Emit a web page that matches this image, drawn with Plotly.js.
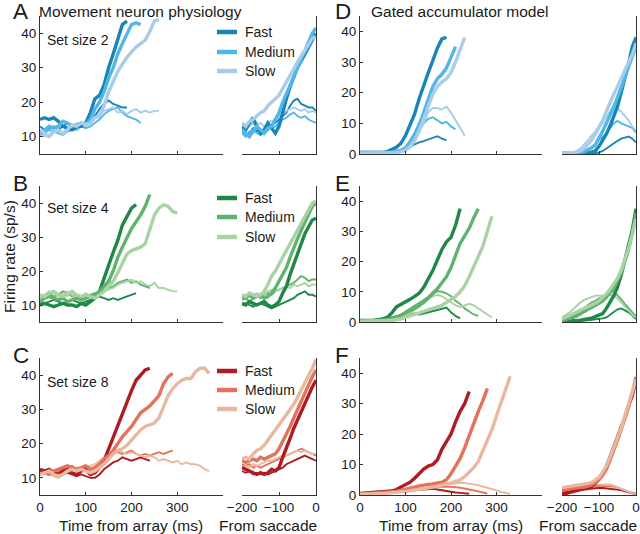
<!DOCTYPE html>
<html>
<head>
<meta charset="utf-8">
<script src="https://cdn.plot.ly/plotly-3.0.1.min.js"></script>
<style>html,body{margin:0;padding:0;background:#fff;}#chart{width:640px;height:534px;}</style>
</head>
<body>
<div id="chart"></div>
<script>
// ---------- time bases ----------
const T_ARRAY = [0,10,20,30,40,50,60,70,80,90,100,110,120,130,140,150,160,170,180,190,200,210,220,230,240,250,260,270,280,290,300,310,320,330,340,350,360,370];
const T_SACC = [-200,-190,-180,-170,-160,-150,-140,-130,-120,-110,-100,-90,-80,-70,-60,-50,-40,-30,-20,-10,0];
const ARRAY_TICKS = [0,100,200,300,400];
const ARRAY_TICK_TEXT = ['0','100','200','300',''];
const SACC_TICKS = [-200,-100,0];
const SACC_TICK_TEXT = ['\u2212200','\u2212100','0'];
const PHYS_YTICKS = [10,20,30,40];
const MODEL_YTICKS = [0,10,20,30,40];
const SPEED_LABELS = ['Fast','Medium','Slow'];
const SET_SIZE_LABELS = ['Set size 2','Set size 4','Set size 8'];

// ---------- A: physiology, set size 2 ----------
const A_arr_fast_in  = [15,15.5,15,15.5,14.5,13,12.5,12,13,13,14,17,21,22,25,30,34,38.5,42.5,43.5];
const A_arr_fast_out = [13,12,12.5,13,12,13,14,13.5,12.5,13,13.5,14,16,18,19.5,20.5,19.5,19,18.5,18.5];
const A_arr_med_in   = [11,12,13,12.5,13,14.5,14,13,13.5,14,13.5,15,18,20,23,27,30,34,37,40,42.5,43,42.5];
const A_arr_med_out  = [10.5,11,12,11.5,11,10.5,11.5,12,12,13,12.5,13,14,15,16.5,17.5,18,18.5,17,16,15.5,15,14];
const A_arr_slow_in  = [12,11,10,11.5,12,11,12,13.5,13,14,13.5,14,15.5,16,19,23,26,29,31,33,34.5,36,37,38,40.5,43.5,44];
const A_arr_slow_out = [11,10,10.5,12,11.5,11,12.5,12,13.5,13,14,14.5,15.5,16.5,17.5,18,18.5,17,17.5,16.5,17.5,18,17,17.5,17,17.5,17.5];
const A_sac_fast_in  = [13,12,14,15.5,13,11,12,14,12.5,11,13,17.5,21,24.5,27.5,30,32,34,36.5,38.5,40];
const A_sac_fast_out = [12,10.5,11,12.5,11.5,12,11,12,13.5,14,15,16,17,19,20.5,21,19.5,19,18.5,18.5,17.5];
const A_sac_med_in   = [12,11,10,11.5,13,12,11,12.5,13,15,17,20,22.5,25,28,30.5,33,35.5,38,40,41.5];
const A_sac_med_out  = [11,10,11.5,12,11,10.5,11,12,12.5,13,14,15,15.5,16.5,17,16,15.5,16,15,14.5,14];
const A_sac_slow_in  = [14,13,14.5,15,16,17,17.5,19,20,21,22,24,26,28,30,32,33.5,35,37,38.5,39];
const A_sac_slow_out = [13,12,13,14,13.5,14,13,14,14.5,15,16,16.5,17.5,18,18.5,18,17.5,18,17,17.5,17];

// ---------- B: physiology, set size 4 ----------
const B_arr_fast_in  = [10,10.5,10,9.5,10,10.5,10,10,9.5,10.5,10,11,12,14,18,21.5,25.5,29,33.5,36,38.5,39.5];
const B_arr_fast_out = [11,10.5,11,11.5,11,10.5,11,11.5,11,10.5,11,11.5,12,12.5,12,11.5,12,11.5,12,12.5,13,13.5];
const B_arr_med_in   = [11,12,12.5,12,11.5,12,11,11.5,12,11.5,12,12.5,13,14,15.5,17,20,24,27,30,32.5,34.5,36.5,39,42.5];
const B_arr_med_out  = [12,13,13.5,12.5,13,14,13.5,12.5,13,12,12.5,13,13.5,14,14.5,15,15.5,16.5,17,17.5,16.5,17,16,15.5,15];
const B_arr_slow_in  = [13,12.5,13.5,14,13,12.5,13,14,13,12.5,13,12.5,12,13,14,15.5,17,19.5,22.5,25,26,26.5,27,28,32,36.5,38.5,39.5,39,37.5,37];
const B_arr_slow_out = [12,13,14,13.5,12.5,13,14,13,12,12.5,13.5,12.5,12,13,14,14.5,15,16,16.5,17,17.5,16.5,17,16,15.5,16.5,15,15,14.5,14,14];
const B_sac_fast_in  = [10.5,10,11,10.5,10,10.5,11,10,9.5,10,11,13.5,15.5,19,22,24.5,28,31,33,35,35.5];
const B_sac_fast_out = [10,10.5,10,9.5,10,10.5,10,9.5,9,9.5,10,10.5,11,11.5,12,13,13.5,14,13,13,12.5];
const B_sac_med_in   = [12.5,12,13,12,12.5,13,12,12.5,13.5,15,17,19,21,24,27,29.5,32,34.5,37,39,40];
const B_sac_med_out  = [11.5,12,11,12,12.5,12,13,13.5,13,14,14.5,15,15.5,16,16.5,17.5,18.5,18,17,17.5,17.5];
const B_sac_slow_in  = [13,12.5,13.5,13,12.5,13,14,16,18.5,20,22,24,26,28,30,32,34,36,38,40,40.5];
const B_sac_slow_out = [12,13,12.5,13,13.5,12.5,13,14,14.5,14,14.5,15,15.5,15,16,15.5,16,16.5,15.5,16,16];

// ---------- C: physiology, set size 8 ----------
const C_arr_fast_in  = [12.5,12,12.5,11.5,11,12,12.5,11.5,11,12,12.5,11,11.5,13,15,18.5,22,25.5,29,32,35.5,38.5,40,41.5,42];
const C_arr_fast_out = [12,11.5,12,11,10.5,11,11.5,11,10.5,11,10.5,10,10,11,12.5,13.5,14.5,15,16,15.5,15,15.5,16,15.5,15];
const C_arr_med_in   = [11,11.5,11,12,12.5,13,13.5,13,12.5,13,13.5,12.5,13,14,15.5,16.5,18,20,22,23.5,25,27,29,30,31,32.5,34,37.5,39.5,40.5];
const C_arr_med_out  = [11.5,12,11,11.5,12,12.5,13,13.5,12.5,13,12,12.5,13,14,15,16.5,17,17.5,17,17.5,18,17,16.5,17,16.5,17,17.5,17,17.5,18];
const C_arr_slow_in  = [11,11.5,12,11,10.5,11,12,12.5,12,12.5,12,11.5,12,13,14,15.5,17,18,18.5,19.5,21,22.5,24,25,25.5,26,27.5,31,34,36,37.5,38.5,39,39,41,42,42,40.5];
const C_arr_slow_out = [11,11.5,11,10.5,10,11,12,12.5,13,12.5,13,13.5,14,15,16,16.5,17.5,18,17.5,17,17.5,17,16.5,16,16.5,16,15,15.5,15,14.5,15,14,14.5,14,14,13.5,12.5,12];
const C_sac_fast_in  = [13,12.5,12,11.5,11,11.5,11,11.5,12.5,12,13,16,18.5,21.5,24.5,27,29.5,32,34.5,36.5,38.5];
const C_sac_fast_out = [12,11.5,12,11,11.5,11,11.5,11,11.5,12,12.5,13,14,14.5,15,15.5,16,16.5,16,15.5,15];
const C_sac_med_in   = [15,14.5,15,15.5,15,16,15.5,16,16.5,17,18.5,20.5,22.5,25,27.5,30,32.5,35,37,39.5,41.5];
const C_sac_med_out  = [14,13.5,14,13,13.5,13,13.5,14,14.5,15,15.5,16,16.5,17,17.5,18,18.5,18,17.5,17,16.5];
const C_sac_slow_in  = [15.5,16,15.5,17,18,18.5,19.5,21,22.5,24,25.5,27,28.5,30,31.5,33.5,35.5,37.5,39.5,42,44.5];
const C_sac_slow_out = [13,13.5,13,14,13.5,14,14.5,15,15,15.5,16,16.5,16.5,17,17.5,18,17.5,18,17.5,17,17];

// ---------- D: model, set size 2 ----------
const D_arr_fast_in  = [0.5,0.5,0.5,0.5,0.5,0.5,0.8,1.5,2.2,3.5,6,9.5,13,18,22.5,26.5,30.5,34.5,37.5,38];
const D_arr_fast_out = [0.5,0.5,0.5,0.5,0.5,0.5,0.5,0.8,1,1.2,1.5,2.5,3.2,3.8,4.2,4.8,5.3,5.8,5,4.5];
const D_arr_med_in   = [0.5,0.5,0.5,0.5,0.5,0.5,0.5,0.6,0.8,1.2,2,4,6.5,9.5,13.5,18,22,24.5,26,28,31.5,35];
const D_arr_med_out  = [0.5,0.5,0.5,0.5,0.5,0.5,0.5,0.5,0.7,1,1.5,3,5,7.5,10,11.5,12,11,10,10.5,9,8];
const D_arr_slow_in  = [0.3,0.3,0.3,0.3,0.3,0.3,0.3,0.3,0.4,0.8,1.2,2.5,4.5,7.5,11.5,15.5,19.5,22,23.5,24.5,26.5,30,34,38];
const D_arr_slow_out = [0.3,0.3,0.3,0.3,0.3,0.3,0.3,0.3,0.4,0.6,1,2,4,7,10.5,13.5,15,15,14.5,15.5,13.5,11,8.5,6];
const D_sac_fast_in  = [0.3,0.3,0.3,0.3,0.3,0.3,0.3,0.5,0.6,1,2.5,4.3,6.5,9.2,12,15.5,20,24.5,29.5,35,38];
const D_sac_fast_out = [0.2,0.2,0.2,0.2,0.2,0.2,0.2,0.2,0.3,0.3,0.5,1,1.8,2.7,3.5,4.3,5,5.3,5.7,5,3.8];
const D_sac_med_in   = [0.3,0.3,0.4,0.4,0.5,0.5,0.8,1.3,2,3,5,7.5,10,12.5,15.5,18.5,21.5,25,28.5,32,35];
const D_sac_med_out  = [0.3,0.3,0.3,0.3,0.4,0.4,0.5,1,2,3.2,4.5,5.8,6.8,8.5,10,10.8,10,9.5,9,8.5,7];
const D_sac_slow_in  = [0.3,0.3,0.4,0.5,0.6,1,1.8,3,4.5,6.5,8.5,11,14,17,19.5,22,24.5,27,29.5,32.5,36];
const D_sac_slow_out = [0.3,0.3,0.4,0.6,1,1.8,3,4.5,6,7.5,8.8,10,12,14,15.3,14.8,13.8,12.5,11,9,7.6];

// ---------- E: model, set size 4 ----------
const E_arr_fast_in  = [0.5,0.5,0.5,0.6,0.8,1,1.5,3,5,5.8,6.5,7.5,8.5,9.5,11.5,14,17,20.5,24,26.5,28,32,37.5];
const E_arr_fast_out = [0.5,0.5,0.5,0.5,0.6,0.8,1,1.5,2,2.3,2.5,2.5,2.8,2.5,2.8,3.2,3.5,3.8,4.2,4.8,3.2,2,1.2];
const E_arr_med_in   = [0.3,0.3,0.3,0.4,0.5,0.6,0.8,1,1.5,2.2,3,3.8,4.5,5.5,6.5,8,9.5,11,13,15,18,22,26,28.5,31,34.5,37.5];
const E_arr_med_out  = [0.3,0.3,0.3,0.4,0.5,0.6,0.8,1.2,1.8,2.5,3.5,4.5,5.5,6.5,7.5,8.5,9.5,10.2,10,9.5,8.5,7,6,4.5,3.5,2.5,2];
const E_arr_slow_in  = [0.3,0.3,0.3,0.3,0.3,0.4,0.5,0.6,0.8,1,1.5,2,2.5,3,3.5,4,4.5,5,5.5,6.5,7.5,8.5,10,12,15,18.5,21.5,25,30,35];
const E_arr_slow_out = [0.3,0.3,0.3,0.3,0.4,0.5,0.6,0.8,1,1.5,2.2,3,4,5,6.5,7.5,8.5,9,8.5,7.5,6.5,5.5,5,5.5,6,5.5,4.5,3.5,2.5,1.5];
const E_sac_fast_in  = [0.3,0.3,0.3,0.4,0.5,0.6,0.8,1,1.3,1.8,2.2,2.8,4.5,6.5,8.7,11.5,15.5,20.5,25,30.5,37.5];
const E_sac_fast_out = [0.3,0.3,0.3,0.3,0.4,0.5,0.5,0.6,0.7,0.8,1,1.2,1.5,2.5,3.5,4.2,4.5,3.8,3.2,2.2,1];
const E_sac_med_in   = [0.5,0.8,1,1.5,2,2.8,3.5,4.2,4.8,5.4,6.2,7,8.2,9.8,11.5,13.8,16.5,20,24,29.5,36];
const E_sac_med_out  = [0.5,1,1.5,2,2.8,3.8,4.8,5.8,6.5,7,7.8,8.3,9,9.8,10.2,9,7.5,6,4.5,3.2,2];
const E_sac_slow_in  = [1,1.5,2,2.7,3.3,4,4.5,5,5.6,6.2,7,8,9.3,10.8,12.5,14.5,17,20.5,24.5,29,34];
const E_sac_slow_out = [1.5,2.2,3.1,4.2,5.5,6.5,7.3,7.8,8.3,8.7,8.8,8.6,8.8,9,8.7,7.8,6.5,5,3.8,2.5,1.5];

// ---------- F: model, set size 8 ----------
const F_arr_fast_in  = [0.5,0.6,0.8,0.7,0.8,1,1,1.3,1.8,2.5,3.2,4.2,5.5,7,8.5,9.5,10,11.5,15,17.5,20,24,27.5,30,34];
const F_arr_fast_out = [0.5,0.5,0.7,0.6,0.6,0.7,0.8,1,1,1.2,1.3,1.5,1.7,1.8,1.8,2,2,1.8,1.5,1.3,1,0.8,0.7,0.5,0.4];
const F_arr_med_in   = [0.3,0.4,0.5,0.5,0.6,0.7,0.8,1,1.2,1.5,1.8,2.2,2.6,3,3.3,3.5,3.6,3.8,4.2,5,7,9.5,12,15.5,19.5,24,27.5,31,35];
const F_arr_med_out  = [0.3,0.4,0.5,0.5,0.6,0.7,0.8,0.9,1,1.2,1.5,1.8,2,2.2,2.3,2.5,2.6,2.7,2.8,2.8,2.7,2.6,2.4,2.2,1.8,1.5,1.2,0.8,0.5];
const F_arr_slow_in  = [0.3,0.3,0.4,0.4,0.5,0.5,0.6,0.7,0.8,1,1.2,1.4,1.6,1.8,2,2.3,2.6,2.9,3.2,3.5,4,4.5,5,6,7.5,9,11,14.5,18,21.5,26,30.5,35,39];
const F_arr_slow_out = [0.3,0.3,0.4,0.4,0.5,0.5,0.6,0.7,0.9,1.1,1.3,1.5,1.8,2,2.3,2.5,2.8,3,3.3,3.5,3.7,4,4,3.9,3.8,3.5,3.2,2.8,2.5,2,1.5,1,0.6,0.4];
const F_sac_fast_in  = [0.2,0.5,0.8,1,1.3,1.6,1.9,2.2,2.7,3.8,5.2,7,9.3,12.5,15.5,19,22.5,25.5,29.5,32.5,38];
const F_sac_fast_out = [0.8,0.9,1,1.2,1.4,1.6,1.8,2,2.2,2.3,2.4,2.3,2.2,2.1,2,1.9,1.6,1.2,0.8,0.5,0.2];
const F_sac_med_in   = [1.9,2,2.1,2.2,2.3,2.5,2.6,2.9,3.3,4,5,6.5,8.5,11.5,14.5,18,21.5,25,29,33.5,38.8];
const F_sac_med_out  = [1.3,1.5,1.7,1.9,2.1,2.3,2.5,2.7,2.9,3,3,3,3,3,2.8,2.5,2,1.5,1.1,0.8,0.5];
const F_sac_slow_in  = [2.4,2.6,2.8,2.9,3,3.2,3.5,3.8,4.1,4.8,5.8,7.5,9.5,12.5,15.5,18.5,22,26,30,34,38];
const F_sac_slow_out = [1.9,2.1,2.3,2.5,2.7,2.9,3.1,3.3,3.5,3.5,3.5,3.5,3.5,3.4,3.1,2.6,1.9,1.4,0.9,0.5,0.3];

// ---------- styling ----------
const ROW_COLORS = [
  ['#1786B6','#52B6E6','#A7CDEA'],
  ['#208847','#60B36E','#A9D2A5'],
  ['#AE1B22','#E3725A','#E9B8A1']
];
const W = 640, H = 534;
const FONT = 'Arial, "Liberation Sans", Helvetica, sans-serif';
const TXT = '#1a1a1a';
const AXC = '#333';
const COL_X = [[40,223],[242,316],[360,542],[562,636]];
const ROW_Y = [[16,154],[186,322],[358,495]];

// panel data: [row][col] -> [fast_out, med_out, slow_out, fast_in, med_in, slow_in]
const PANELS = [
  [[A_arr_fast_out,A_arr_med_out,A_arr_slow_out,A_arr_fast_in,A_arr_med_in,A_arr_slow_in],
   [A_sac_fast_out,A_sac_med_out,A_sac_slow_out,A_sac_fast_in,A_sac_med_in,A_sac_slow_in],
   [D_arr_fast_out,D_arr_med_out,D_arr_slow_out,D_arr_fast_in,D_arr_med_in,D_arr_slow_in],
   [D_sac_fast_out,D_sac_med_out,D_sac_slow_out,D_sac_fast_in,D_sac_med_in,D_sac_slow_in]],
  [[B_arr_fast_out,B_arr_med_out,B_arr_slow_out,B_arr_fast_in,B_arr_med_in,B_arr_slow_in],
   [B_sac_fast_out,B_sac_med_out,B_sac_slow_out,B_sac_fast_in,B_sac_med_in,B_sac_slow_in],
   [E_arr_fast_out,E_arr_med_out,E_arr_slow_out,E_arr_fast_in,E_arr_med_in,E_arr_slow_in],
   [E_sac_fast_out,E_sac_med_out,E_sac_slow_out,E_sac_fast_in,E_sac_med_in,E_sac_slow_in]],
  [[C_arr_fast_out,C_arr_med_out,C_arr_slow_out,C_arr_fast_in,C_arr_med_in,C_arr_slow_in],
   [C_sac_fast_out,C_sac_med_out,C_sac_slow_out,C_sac_fast_in,C_sac_med_in,C_sac_slow_in],
   [F_arr_fast_out,F_arr_med_out,F_arr_slow_out,F_arr_fast_in,F_arr_med_in,F_arr_slow_in],
   [F_sac_fast_out,F_sac_med_out,F_sac_slow_out,F_sac_fast_in,F_sac_med_in,F_sac_slow_in]]
];

const traces = [];
const layout = {
  width: W, height: H, autosize: false,
  margin: {l:0, r:0, t:0, b:0},
  paper_bgcolor: '#fff', plot_bgcolor: 'rgba(0,0,0,0)',
  showlegend: false, hovermode: false,
  font: {family: FONT, color: TXT, size: 13},
  annotations: [], shapes: []
};

for (let r = 0; r < 3; r++) {
  for (let c = 0; c < 4; c++) {
    const k = r*4 + c + 1;
    const xid = 'x' + (k === 1 ? '' : k), yid = 'y' + (k === 1 ? '' : k);
    const xname = 'xaxis' + (k === 1 ? '' : k), yname = 'yaxis' + (k === 1 ? '' : k);
    const isSacc = (c % 2 === 1), isModel = (c >= 2);
    const tx = isSacc ? T_SACC : T_ARRAY;
    const series = PANELS[r][c];
    series.forEach((vals, i) => {
      const thick = i >= 3;
      traces.push({
        type: 'scatter', mode: 'lines',
        x: tx.slice(0, vals.length), y: vals,
        xaxis: xid, yaxis: yid,
        line: {color: ROW_COLORS[r][i % 3], width: thick ? 3.4 : 1.9, shape: 'linear'},
        hoverinfo: 'skip'
      });
    });
    layout[xname] = {
      domain: [COL_X[c][0]/W, COL_X[c][1]/W],
      anchor: yid,
      range: isSacc ? [-200, 0] : [0, 400],
      tickvals: isSacc ? SACC_TICKS : ARRAY_TICKS,
      ticktext: isSacc ? SACC_TICK_TEXT : ARRAY_TICK_TEXT,
      tickmode: 'array',
      showticklabels: r === 2,
      ticks: 'inside', ticklen: 3, tickcolor: AXC, tickwidth: 1,
      showline: true, linecolor: AXC, linewidth: 1,
      showgrid: false, zeroline: false, fixedrange: true,
      tickfont: {family: FONT, size: 13.5, color: TXT}
    };
    const yax = {
      domain: [1 - ROW_Y[r][1]/H, 1 - ROW_Y[r][0]/H],
      anchor: xid,
      range: isModel ? [0, 45] : [5, 45],
      showgrid: false, zeroline: false, fixedrange: true,
      showline: true, linecolor: AXC, linewidth: 1
    };
    if (isSacc) {
      Object.assign(yax, {side: 'right', showticklabels: false, ticks: ''});
    } else {
      Object.assign(yax, {
        side: 'left', tickmode: 'array',
        tickvals: isModel ? MODEL_YTICKS : PHYS_YTICKS,
        ticks: 'inside', ticklen: 3, tickcolor: AXC,
        tickfont: {family: FONT, size: 13.5, color: TXT}
      });
    }
    layout[yname] = yax;
  }
}

function ann(text, px, py, size, xanchor, extra) {
  layout.annotations.push(Object.assign({
    text: text, xref: 'paper', yref: 'paper',
    x: px / W, y: 1 - py / H, xanchor: xanchor || 'left', yanchor: 'middle',
    showarrow: false, font: {family: FONT, size: size, color: TXT}
  }, extra || {}));
}

// panel letters
const LETTER_Y = [11, 184, 355];
['A','B','C'].forEach((L, i) => ann(L, 11, LETTER_Y[i], 22.5, 'left'));
['D','E','F'].forEach((L, i) => ann(L, 333, LETTER_Y[i], 22.5, 'left'));

// group titles
ann('Movement neuron physiology', 37, 11, 15.5, 'left');
ann('Gated accumulator model', 369, 11, 15.5, 'left');

// set size labels + speed legends
const SET_Y = [40, 208, 382];
const LEG_Y = [[32,52,71],[198,217,237],[371,390,409]];
for (let r = 0; r < 3; r++) {
  ann(SET_SIZE_LABELS[r], 45, SET_Y[r], 14, 'left');
  for (let i = 0; i < 3; i++) {
    const yy = 1 - LEG_Y[r][i] / H;
    layout.shapes.push({type: 'line', xref: 'paper', yref: 'paper',
      x0: 217/W, x1: 237/W, y0: yy, y1: yy,
      line: {color: ROW_COLORS[r][i], width: 4.5}});
    ann(SPEED_LABELS[i], 243, LEG_Y[r][i], 14, 'left');
  }
}

// axis titles
ann('Firing rate (sp/s)', 9, 257, 15.5, 'center', {textangle: -90});
ann('Time from array (ms)', 131, 525, 15.5, 'center');
ann('From saccade', 268, 525, 15.5, 'center');
ann('Time from array (ms)', 451, 525, 15.5, 'center');
ann('From saccade', 588, 525, 15.5, 'center');

Plotly.newPlot('chart', traces, layout, {displayModeBar: false, staticPlot: true});
</script>
</body>
</html>
